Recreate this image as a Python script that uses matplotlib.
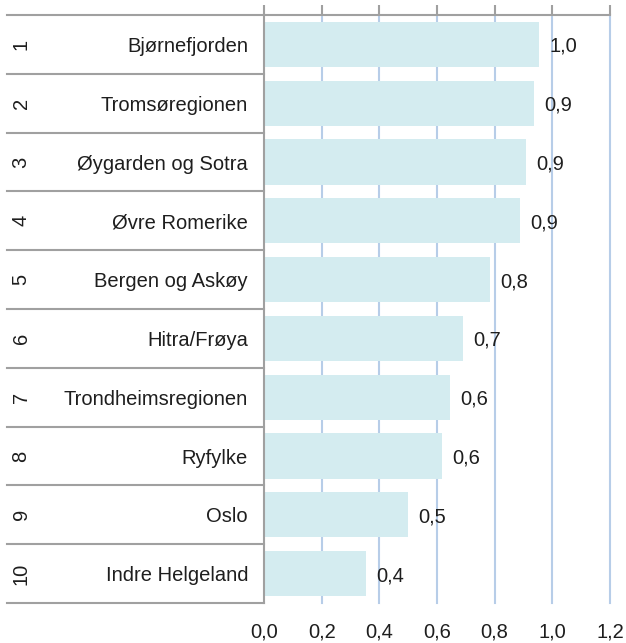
import matplotlib.pyplot as plt
import matplotlib.transforms as mtransforms

plt.rcParams['font.family'] = ['Liberation Sans', 'DejaVu Sans']

# ── Data ────────────────────────────────────────────────────────────────────
ranks = ['1', '2', '3', '4', '5', '6', '7', '8', '9', '10']
regions = ['Bjørnefjorden', 'Tromsøregionen', 'Øygarden og Sotra', 'Øvre Romerike',
           'Bergen og Askøy', 'Hitra/Frøya', 'Trondheimsregionen', 'Ryfylke',
           'Oslo', 'Indre Helgeland']
values = [0.954, 0.936, 0.909, 0.888, 0.784, 0.690, 0.645, 0.617, 0.500, 0.354]
value_labels = ['1,0', '0,9', '0,9', '0,9', '0,8', '0,7', '0,6', '0,6', '0,5', '0,4']
xticks = [0.0, 0.2, 0.4, 0.6, 0.8, 1.0, 1.2]
xtick_labels = ['0,0', '0,2', '0,4', '0,6', '0,8', '1,0', '1,2']

bar_color = '#d4ecf0'
grid_color = '#b7cde8'
line_color = '#a0a0a0'
text_color = '#1e1e1e'
fs = 14.5

fig = plt.figure(figsize=(6.26, 6.43), dpi=100)
ax = fig.add_axes([264 / 626, 1 - 603 / 643, 346 / 626, 588 / 643])

ypos = list(range(len(regions)))
ax.barh(ypos, values, height=0.77, color=bar_color, zorder=2)
for y, v, lab in zip(ypos, values, value_labels):
    ax.text(v + 0.035, y, lab, va='center_baseline', ha='left', fontsize=fs,
            color=text_color, zorder=4)

ax.set_xlim(0, 1.2)
ax.set_ylim(len(regions) - 0.5, -0.5)
ax.set_yticks([])
ax.set_xticks(xticks)
ax.set_xticklabels(xtick_labels, fontsize=fs, color=text_color)
ax.tick_params(axis='x', top=True, bottom=False, labeltop=False, labelbottom=True,
               direction='out', length=7, width=1.5, color=line_color, pad=7)

# vertical grid lines
for t in xticks[1:]:
    ax.axvline(t, color=grid_color, linewidth=1.5, zorder=1, clip_on=False)

for s in ['right', 'bottom']:
    ax.spines[s].set_visible(False)
ax.spines['left'].set_color(line_color)
ax.spines['left'].set_linewidth(1.5)
ax.spines['left'].set_zorder(3)
ax.spines['top'].set_color(line_color)
ax.spines['top'].set_linewidth(1.5)

# left-hand table: rank, region name and row separators
trans = mtransforms.blended_transform_factory(ax.transAxes, ax.transData)
x_left = (7 - 264) / 346
ax.plot([x_left, 0], [-0.5, -0.5], transform=trans, color=line_color, lw=1.5, clip_on=False)
for y in ypos:
    ax.plot([x_left, 0], [y + 0.5, y + 0.5], transform=trans, color=line_color,
            lw=1.5, clip_on=False)
    ax.text((21 - 264) / 346, y, ranks[y], transform=trans, rotation=90,
            ha='center', va='center', fontsize=fs, color=text_color)
    ax.text((248 - 264) / 346, y, regions[y], transform=trans,
            ha='right', va='center_baseline', fontsize=fs, color=text_color)

fig.savefig('out.png', dpi=100)
